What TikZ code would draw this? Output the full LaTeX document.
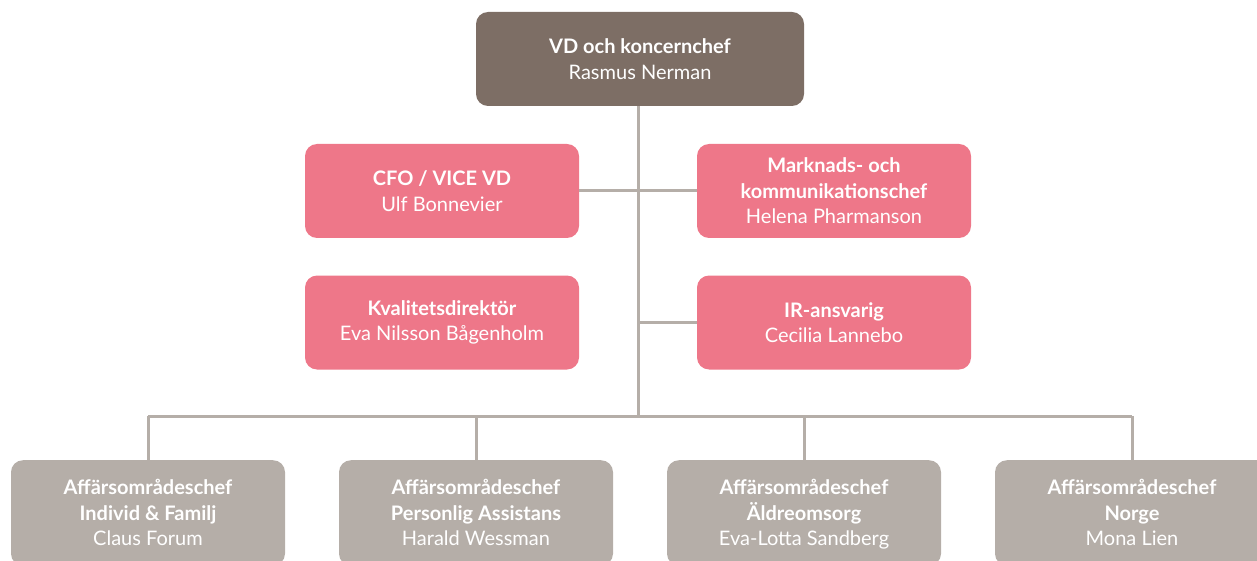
\documentclass[tikz,border=0pt]{standalone}
\usepackage{fontspec}
\setmainfont{Lato}
\definecolor{topc}{HTML}{7D6E65}
\definecolor{pinkc}{HTML}{EE7789}
\definecolor{greyc}{HTML}{B5AEA8}
\definecolor{linec}{HTML}{B5AEA8}
\newcommand\lnstrut{\vphantom{Äg}}
\begin{document}
\begin{tikzpicture}[x=1pt,y=-1pt,
  box/.style={rounded corners=12pt,minimum width=274pt,minimum height=94pt,inner sep=0pt,
    text=white,align=center,font=\fontsize{20}{25.5}\selectfont},
  topbox/.style={box,fill=topc,minimum width=328pt},
  pinkbox/.style={box,fill=pinkc},
  greybox/.style={box,fill=greyc,minimum height=105.5pt},
  conn/.style={draw=linec,line width=3pt}]
\useasboundingbox (0,0) rectangle (1257,561);
\clip (0,0) rectangle (1257,561);
\node[topbox] (vd) at (640,59) {\textbf{VD och koncernchef}\\Rasmus Nerman};
\node[pinkbox] (cfo) at (442,191) {\textbf{CFO / VICE VD}\\Ulf Bonnevier};
\node[pinkbox] (mk) at (834,191) {\textbf{Marknads- och}\\\textbf{kommunikationschef}\\Helena Pharmanson};
\node[pinkbox] (kv) at (442,322.5) {\textbf{Kvalitetsdirektör}\\Eva Nilsson Bågenholm};
\node[pinkbox] (ir) at (834,322.5) {\textbf{IR-ansvarig}\\Cecilia Lannebo};
\node[greybox,anchor=north] (b1) at (148,460) {\lnstrut\textbf{Affärsområdeschef}\\\lnstrut\textbf{Individ \& Familj}\\\lnstrut Claus Forum};
\node[greybox,anchor=north] (b2) at (476,460) {\lnstrut\textbf{Affärsområdeschef}\\\lnstrut\textbf{Personlig Assistans}\\\lnstrut Harald Wessman};
\node[greybox,anchor=north] (b3) at (804,460) {\lnstrut\textbf{Affärsområdeschef}\\\lnstrut\textbf{Äldreomsorg}\\\lnstrut Eva-Lotta Sandberg};
\node[greybox,anchor=north] (b4) at (1132,460) {\lnstrut\textbf{Affärsområdeschef}\\\lnstrut\textbf{Norge}\\\lnstrut Mona Lien};
\coordinate (spine) at (638.5,416);
\draw[conn] (vd.south -| spine) -- (spine);
\draw[conn] (cfo.east) -- (cfo.east -| spine);
\draw[conn] (mk.west) -- (mk.west -| spine);
\draw[conn] (ir.west) -- (ir.west -| spine);
\draw[conn] (b1.north |- spine) -- (b4.north |- spine);
\draw[conn] (b1.north |- spine) -- (b1.north);
\draw[conn] (b2.north |- spine) -- (b2.north);
\draw[conn] (b3.north |- spine) -- (b3.north);
\draw[conn] (b4.north |- spine) -- (b4.north);
\end{tikzpicture}
\end{document}
